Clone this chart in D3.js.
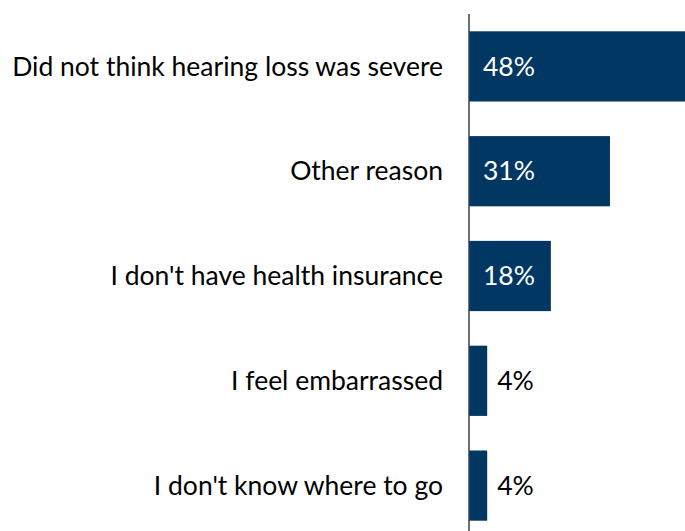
<!DOCTYPE html>
<html>
<head>
<meta charset="utf-8">
<script src="https://cdn.jsdelivr.net/npm/d3@7"></script>
<style>
  body { margin: 0; background: #fff; }
  svg { display: block; }
</style>
</head>
<body>
<script>
// data
var reasons = ["Did not think hearing loss was severe", "Other reason", "I don't have health insurance", "I feel embarrassed", "I don't know where to go"];
var percents = [48, 31, 18, 4, 4];

var width = 685, height = 531;
var barColor = "#003763";

var svg = d3.select("body").append("svg")
    .attr("width", width)
    .attr("height", height);

var x = d3.scaleLinear().domain([0, 47.5]).range([469, 685]);
var y = d3.scaleBand().domain(reasons).range([14, 538])
    .paddingInner(0.33).paddingOuter(0.165);

// bars (the longest one runs off the right edge)
svg.selectAll("rect.bar")
    .data(percents).enter()
    .append("rect")
    .attr("class", "bar")
    .attr("x", x(0))
    .attr("y", function(d, i){ return y(reasons[i]); })
    .attr("width", function(d){ return x(d) - x(0); })
    .attr("height", y.bandwidth())
    .attr("fill", barColor);

// value labels - inside for the big ones, outside for the small ones
svg.selectAll("text.value")
    .data(percents).enter()
    .append("text")
    .attr("class", "value")
    .text(function(d){ return d + "%"; })
    .attr("x", function(d){ return d > 10 ? x(0) + 14 : x(d) + 10; })
    .attr("y", function(d, i){ return y(reasons[i]) + y.bandwidth() / 2; })
    .attr("dy", "0.35em")
    .attr("font-family", "Lato, sans-serif")
    .attr("font-size", "26.5px")
    .attr("fill", function(d){ return d > 10 ? "#ffffff" : "#000000"; });

// category labels
svg.selectAll("text.cat")
    .data(reasons).enter()
    .append("text")
    .attr("class", "cat")
    .text(function(d){ return d; })
    .attr("x", 443)
    .attr("y", function(d){ return y(d) + y.bandwidth() / 2; })
    .attr("dy", "0.35em")
    .attr("text-anchor", "end")
    .attr("font-family", "Lato, sans-serif")
    .attr("font-size", "26.5px")
    .attr("fill", "#000000");

// axis line
svg.append("line")
    .attr("x1", x(0))
    .attr("x2", x(0))
    .attr("y1", 14)
    .attr("y2", height)
    .attr("stroke", "#404040")
    .attr("stroke-width", 1.5);
</script>
</body>
</html>
